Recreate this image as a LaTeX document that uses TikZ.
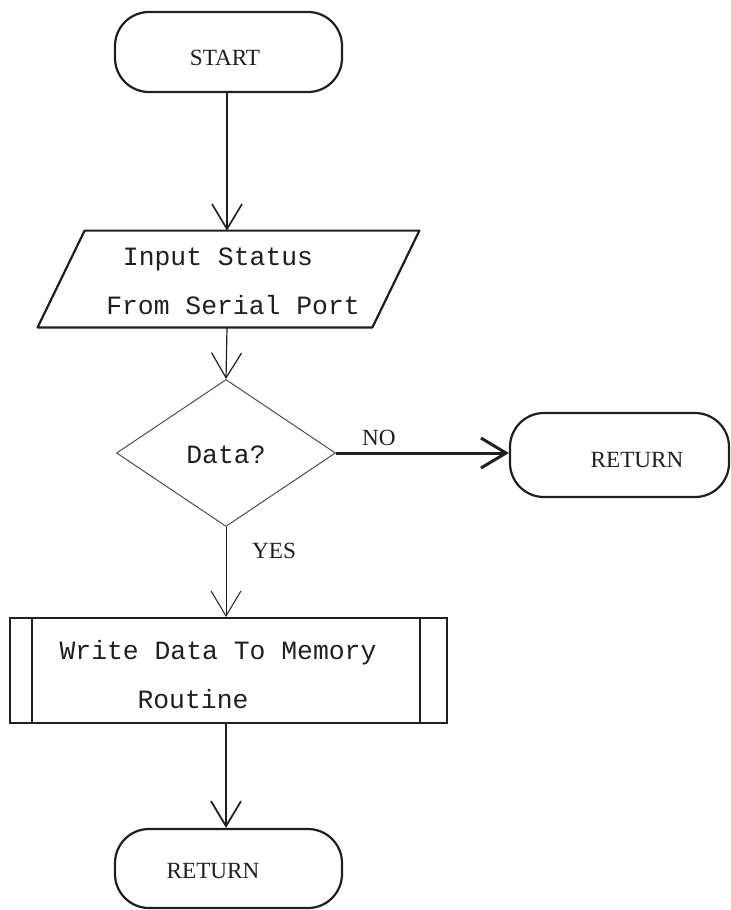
\documentclass[tikz,border=0pt]{standalone}
\usepackage{fontspec}
\setmainfont{Liberation Serif}
\newfontfamily\typewriter{Liberation Mono}
\usetikzlibrary{shapes.geometric,arrows.meta}

\definecolor{ink}{gray}{0.12}
\definecolor{faintink}{gray}{0.3}

\tikzset{
  outline/.style={draw=ink, line width=1.1pt},
  terminal/.style={outline, rectangle, rounded corners=17pt, inner sep=0pt},
  mono/.style={font=\typewriter\fontsize{13.2}{16}\selectfont, text=ink, inner sep=0pt, anchor=base},
  serif/.style={font=\fontsize{11.6}{14}\selectfont, text=ink, inner sep=0pt, anchor=base},
  flow/.style={draw=ink, -{Straight Barb[length=12.5pt, width=15pt]}},
}

\begin{document}
\begin{tikzpicture}[x=0.5pt, y=-0.5pt]
  \useasboundingbox (0,0) rectangle (731,910);

  % vertical spine of the main flow
  \coordinate (spine) at (227,0);

  % start terminal
  \node[terminal, minimum width=113.5pt, minimum height=40pt] (start) at (228.5,52) {};
  \node[serif] (starttxt) at (225,65) {START};

  % input parallelogram
  \node[minimum width=190.5pt, minimum height=48pt, inner sep=0pt] (para) at (228.5,279) {};
  \draw[outline, line join=round]
    ([xshift=23.5pt]para.north west) -- (para.north east)
    -- ([xshift=-23.5pt]para.south east) -- (para.south west) -- cycle;
  \node[mono] (in1) at (218,265) {Input Status};
  \node[mono] (in2) at (233,314) {From Serial Port};

  % decision
  \node[diamond, draw=faintink, line width=0.5pt, inner sep=0pt,
        minimum width=109.5pt, minimum height=73.5pt] (dec) at (226,453) {};
  \node[mono] (dectxt) at (226,463) {Data?};

  % return on no data
  \node[terminal, minimum width=109.5pt, minimum height=42pt] (ret1) at (619.5,455) {};
  \node[serif] (ret1txt) at (637,467) {RETURN};

  % predefined process
  \node[outline, rectangle, minimum width=218.5pt, minimum height=52.5pt, inner sep=0pt]
    (proc) at (228.5,670.5) {};
  \draw[outline] ([xshift=11.5pt]proc.north west) -- ([xshift=11.5pt]proc.south west);
  \draw[outline] ([xshift=-14pt]proc.north east) -- ([xshift=-14pt]proc.south east);
  \node[mono] (proc1) at (218,659) {Write Data To Memory};
  \node[mono] (proc2) at (193,708) {Routine};

  % final return
  \node[terminal, minimum width=113.5pt, minimum height=39.5pt] (ret2) at (228.5,868.5) {};
  \node[serif] (ret2txt) at (213,878) {RETURN};

  % connectors
  \draw[flow, line width=0.8pt] (start.south -| spine) -- (para.north -| spine);
  \draw[flow, line width=0.6pt] (para.south -| spine) -- (dec.north);
  \draw[flow, line width=1.5pt] (dec.east) -- (dec.east -| ret1.west);
  \node[serif] (no) at (379,445) {NO};
  \draw[flow, line width=0.5pt] (dec.south) -- (proc.north -| dec.south);
  \node[serif] (yes) at (274,558) {YES};
  \draw[flow, line width=0.9pt] (proc.south -| dec.south) -- (ret2.north -| dec.south);
\end{tikzpicture}
\end{document}
